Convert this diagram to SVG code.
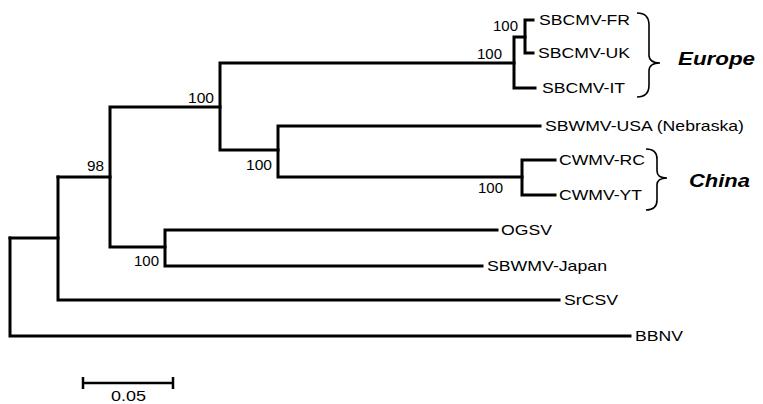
<svg xmlns="http://www.w3.org/2000/svg" width="763" height="404" viewBox="0 0 763 404">
<style>
.br{fill:none;stroke:#000;stroke-width:3;stroke-linecap:square;stroke-linejoin:miter}
.lf{font-family:"Liberation Sans",Arial,sans-serif;font-size:15px;fill:#000}
.bs{font-family:"Liberation Sans",Arial,sans-serif;font-size:14px;fill:#000;text-anchor:end}
.rg{font-family:"Liberation Sans",Arial,sans-serif;font-size:18px;font-weight:bold;font-style:italic;fill:#000}
.cb{fill:none;stroke:#000;stroke-width:1.6}
</style>
<rect width="763" height="404" fill="#fff"/>
<g id="connectors">
<path class="br" d="M10 238V336H630"/>
<path class="br" d="M10 238H58"/>
<path class="br" d="M58 177V300H559"/>
<path class="br" d="M58 177H110V247H165"/>
<path class="br" d="M110 177V107H220"/>
<path class="br" d="M165 230V266H482M165 230H497"/>
<path class="br" d="M220 63V150H278M220 63H514"/>
<path class="br" d="M278 126V177H522M278 126H540"/>
<path class="br" d="M514 37V88H535M514 37H525"/>
<path class="br" d="M525 20V53H533M525 20H533"/>
<path class="br" d="M522 160V195H555M522 160H555"/>
</g>
<g id="leaf-sbcmv-fr"><text class="lf" x="539" y="25" textLength="91" lengthAdjust="spacingAndGlyphs">SBCMV-FR</text></g>
<g id="leaf-sbcmv-uk"><text class="lf" x="538" y="58" textLength="92" lengthAdjust="spacingAndGlyphs">SBCMV-UK</text></g>
<g id="leaf-sbcmv-it"><text class="lf" x="542" y="93" textLength="83" lengthAdjust="spacingAndGlyphs">SBCMV-IT</text></g>
<g id="leaf-sbwmv-usa"><text class="lf" x="545" y="131" textLength="199" lengthAdjust="spacingAndGlyphs">SBWMV-USA (Nebraska)</text></g>
<g id="leaf-cwmv-rc"><text class="lf" x="559" y="165" textLength="86" lengthAdjust="spacingAndGlyphs">CWMV-RC</text></g>
<g id="leaf-cwmv-yt"><text class="lf" x="559" y="200" textLength="83" lengthAdjust="spacingAndGlyphs">CWMV-YT</text></g>
<g id="leaf-ogsv"><text class="lf" x="501" y="235" textLength="51" lengthAdjust="spacingAndGlyphs">OGSV</text></g>
<g id="leaf-sbwmv-japan"><text class="lf" x="487" y="271" textLength="120" lengthAdjust="spacingAndGlyphs">SBWMV-Japan</text></g>
<g id="leaf-srcsv"><text class="lf" x="564" y="305" textLength="54" lengthAdjust="spacingAndGlyphs">SrCSV</text></g>
<g id="leaf-bbnv"><text class="lf" x="635" y="341" textLength="48" lengthAdjust="spacingAndGlyphs">BBNV</text></g>
<g id="node-europe-inner"><text class="bs" x="518" y="31" textLength="25" lengthAdjust="spacingAndGlyphs">100</text></g>
<g id="node-europe"><text class="bs" x="502" y="59" textLength="25" lengthAdjust="spacingAndGlyphs">100</text></g>
<g id="node-eu-as"><text class="bs" x="214" y="103" textLength="26" lengthAdjust="spacingAndGlyphs">100</text></g>
<g id="node-usa-china"><text class="bs" x="272" y="170" textLength="26" lengthAdjust="spacingAndGlyphs">100</text></g>
<g id="node-china"><text class="bs" x="503" y="193" textLength="25" lengthAdjust="spacingAndGlyphs">100</text></g>
<g id="node-98"><text class="bs" x="104" y="171" textLength="17" lengthAdjust="spacingAndGlyphs">98</text></g>
<g id="node-ogsv-japan"><text class="bs" x="159" y="266" textLength="25" lengthAdjust="spacingAndGlyphs">100</text></g>
<g id="group-europe">
<path class="cb" d="M637 13Q649 13 649 25V55Q649 63 660 63Q649 63 649 71V85Q649 97 637 97"/>
<text class="rg" x="678" y="65" textLength="77" lengthAdjust="spacingAndGlyphs">Europe</text>
</g>
<g id="group-china">
<path class="cb" d="M646 149Q657 149 657 159V171Q657 178 667 178Q657 178 657 185V200Q657 210 646 210"/>
<text class="rg" x="689" y="187" textLength="61" lengthAdjust="spacingAndGlyphs">China</text>
</g>
<g id="scale-bar">
<path class="br" d="M83 383H173M83 377V389M173 377V389" style="stroke-width:2.5;stroke-linecap:butt"/>
<text class="lf" x="111" y="401" textLength="35" lengthAdjust="spacingAndGlyphs" style="font-size:14px">0.05</text>
</g>
</svg>
